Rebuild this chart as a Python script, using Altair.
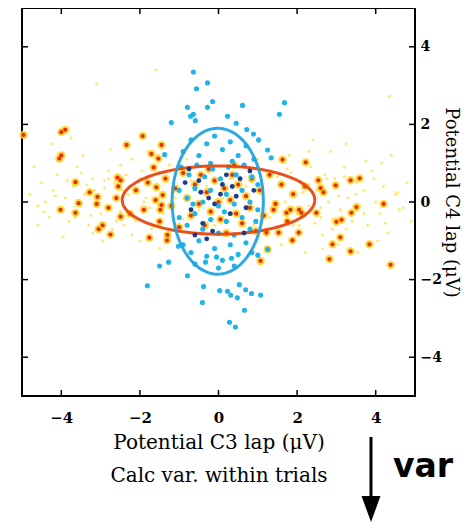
import altair as alt
import pandas as pd

# ---------------- data ----------------
tick_values = [-4, -2, 0, 2, 4]

# orange/red trial points (with yellow halo)
orange_x = [-4.96, -4.0, -3.9, -4.05, -4.0, -3.64, -3.28, -2.34, -1.93, -1.45, -1.71, -1.53,
            -2.57, -2.49, -3.08, -1.65, -1.58, -1.42,
            1.63, 2.22, 3.36, 3.59, 2.6, 2.98, 4.2, 2.54, 2.67,
            -4.02, -3.64, -3.56, -3.05, -2.95, -2.75, -2.49, -1.76, -1.31, -1.48, -1.45,
            3.51, 3.38, 3.0, 3.13, 3.1, 2.9, 3.36, 3.84, 2.82, 4.38, 1.88, 2.04, 1.53, 1.25,
            1.07, 1.73, 1.83, 1.4, 2.11, 2.49, 1.22,
            -2.1, -1.9, -1.8, -1.6, -1.5, -1.35, -1.2, -1.1, -1.0, -0.9, -0.8, -0.7, -0.6,
            -0.5, -0.45, -0.35, -0.3, -0.2, -0.1, 0.0, 0.05, 0.15, 0.2, 0.3, 0.35, 0.45, 0.5,
            0.6, 0.7, 0.8, 0.85, 0.95, 1.05, 1.15, 1.3, 1.45, 1.6, 1.75, 1.9, 2.05, 2.2,
            -2.25, -0.25, 0.4, -1.3, -2.6, -2.8, -2.55, -3.1]
orange_y = [1.73, 1.8, 1.86, 1.12, 1.2, 0.51, 0.25, 1.47, 1.7, 1.47, 1.24, 1.12,
            0.63, 0.56, 0.13, 0.89, 0.38, 0.18,
            1.09, 1.02, 0.56, 0.61, 0.36, 0.43, -0.05, 0.56, 0.25,
            -0.2, -0.28, -0.03, -0.7, -0.6, -0.84, -0.38, -0.92, -0.99, -0.2, -0.08,
            -0.13, -0.28, -0.51, -0.46, -0.91, -1.09, -1.27, -1.09, -1.47, -1.62, -0.99, -0.79, -0.79, -1.22,
            -1.52, -0.28, -0.2, -0.2, -0.28, -0.28, -0.79,
            0.3, -0.2, 0.5, 0.05, -0.5, 0.6, -0.1, 0.35, -0.65, 0.75, 0.1, -0.35, 0.45,
            -0.05, 0.7, -0.6, 0.25, -0.25, 0.55, 0.0, -0.45, 0.35, -0.8, 0.05, 0.7, -0.3, 0.45,
            -0.55, 0.15, -0.15, 0.6, -0.75, 0.3, -0.35, 0.7, -0.05, 0.45, -0.5, 0.2, -0.2, 0.4,
            -0.3, 0.85, 0.95, -0.85, 0.1, -0.15, 0.4, -0.05]

# cyan trial points
cyan_x = [-0.64, -0.56, -0.28, -0.15, -0.28, -0.79, -0.64, -0.71, -0.59, -1.2, 0.23, 0.61,
          1.68, 1.55, 0.45, 0.72, 0.89, 1.02, 1.25, 1.34, -1.37,
          -1.5, -1.27, -0.79, -1.81, -0.38, 0.03, 0.23, 0.31, 0.48, 0.53, 0.69, 0.84, 1.07,
          -0.41, 0.66, 0.28, 0.43, -0.33, -0.05, 0.33, 1.0, 1.25, -1.02,
          -0.9, -0.7, -0.5, -0.3, -0.1, 0.1, 0.3, 0.5, 0.7, 0.9,
          -0.95, -0.75, -0.55, -0.35, -0.15, 0.05, 0.25, 0.45, 0.65, 0.85, 1.0,
          -1.0, -0.8, -0.6, -0.4, -0.2, 0.0, 0.2, 0.4, 0.6, 0.8, 1.0,
          -1.0, -0.8, -0.6, -0.4, -0.2, 0.0, 0.2, 0.4, 0.6, 0.8, 0.95,
          -0.9, -0.7, -0.5, -0.3, -0.1, 0.1, 0.3, 0.5, 0.7, 0.85,
          -0.6, 0.0, 0.4, -0.2, 0.35, -0.65, 0.15]
cyan_y = [3.35, 2.92, 3.07, 2.59, 2.44, 2.44, 2.26, 2.21, 2.1, 2.05, 2.21, 2.49,
          2.56, 2.26, 2.03, 1.87, 1.75, 1.6, 1.34, 1.14, 1.22,
          -1.65, -1.55, -1.9, -2.16, -2.18, -2.28, -2.3, -2.4, -2.47, -2.13, -2.26, -2.36, -2.4,
          -2.59, -2.79, -3.1, -3.22, -1.55, -1.42, -1.45, -1.37, -1.22, -1.14,
          1.3, 1.6, 1.2, 1.5, 1.7, 1.35, 1.55, 1.2, 1.45, 1.1,
          0.9, 0.7, 0.95, 0.65, 0.85, 0.6, 0.9, 0.7, 0.95, 0.65, 0.45,
          0.3, 0.1, 0.35, 0.0, 0.3, -0.1, 0.2, -0.05, 0.3, 0.0, -0.2,
          -0.4, -0.6, -0.3, -0.7, -0.45, -0.8, -0.5, -0.85, -0.4, -0.7, -0.5,
          -1.1, -1.3, -1.0, -1.4, -1.2, -1.5, -1.1, -1.35, -1.05, -1.3,
          -1.6, -1.7, -1.65, 1.0, 1.05, -0.05, -0.25]

# dark blue / black points in the overlap
dark_x = [-0.5, -0.25, 0.1, 0.3, 0.55, 0.7, -0.7, -0.4, -0.1, 0.2, 0.45, -0.85, 0.9,
          -0.15, 0.05, -0.6, -0.3, 0.65, 0.35, -0.45, 0.8, -0.75]
dark_y = [0.55, 0.1, 0.45, -0.3, 0.6, -0.15, -0.2, -0.55, -0.05, 0.7, 0.15, 0.5, 0.3,
          -0.75, 0.2, -0.85, -0.95, -0.8, 0.4, 0.25, 0.8, 0.85]

# faint yellow points
yellow_x = [-4.8, -4.6, -4.5, -4.4, -4.3, -4.2, -4.1, -4.0, -3.9, -3.8, -3.7, -3.6, -3.5, -3.4,
            -3.3, -3.2, -3.1, -3.0, -2.9, -2.8, -2.7, -2.6, -2.5, -3.45, -2.75, -4.7, -3.95,
            -2.95, -3.6, -3.15, -2.85, -2.65, -4.25, -3.75, -3.1, -1.6,
            -2.3, -2.1, -2.0, -1.9, -1.7, -1.6, -1.4, -1.25, -1.1, -0.9, -0.7, -0.5, -0.3,
            -0.1, 0.1, 0.3, 0.5, 0.7, 0.9, 1.1, 1.3, 1.5, 1.7, 1.9, 2.1, 2.3, -2.2, -1.8,
            1.8, 2.3, -1.5, 1.6, 2.2, -2.0, 1.0, -0.8,
            2.5, 2.6, 2.7, 2.8, 2.9, 3.0, 3.1, 3.2, 3.3, 3.4, 3.5, 3.6, 3.7, 3.8, 3.9, 4.0,
            4.1, 4.2, 4.3, 4.5, 4.6, 4.8, 4.9, 2.85, 3.25, 3.75, 4.4, 2.65, 3.05, 3.55, 4.05,
            2.4, 4.35,
            -3.35, -3.05, -2.75, -2.45, -2.15, -1.85, -3.25, -2.9, -2.6, -2.35, -2.05, -1.75,
            -3.5, -3.2, -2.8, -2.5, -2.2, -1.95, -4.45, -4.15, -3.85, -4.6, -3.65, -2.4,
            1.85, 2.15, 2.45, 2.75, 3.05, 3.35, 2.0, 2.3, 2.6, 2.9, 3.2, 3.5,
            1.75, 2.05, 2.35, 2.65, 2.95, 3.25, 3.95, 4.25, 4.55, 3.7, 4.15, 4.7]
yellow_y = [0.2, -0.1, 0.5, 0.0, -0.4, 0.3, 0.7, -0.2, 0.1, -0.5, 0.4, 0.9, -0.1, 0.2,
            -0.6, 0.6, 0.0, -0.3, 0.35, 0.8, -0.7, 0.15, -0.25, 1.2, 1.35, 0.9, -0.9,
            -1.0, 0.05, 0.3, -0.1, 0.5, 1.5, 1.65, 3.05, 3.4,
            0.2, -0.5, 0.6, 0.0, -0.7, 0.4, -0.3, 0.95, 0.1, -0.45, 0.55, -0.2, 0.4,
            -0.6, 0.1, 0.6, -0.35, 0.4, -0.6, 0.2, -0.4, 0.65, 0.0, -0.6, 0.5, -0.1, 1.1, 1.3,
            1.2, 1.3, -1.2, -1.1, -1.3, -1.0, 1.1, 1.1,
            0.3, -0.4, 0.7, 0.0, -0.7, 0.4, -0.2, 0.9, 0.1, -0.5, 0.5, -0.1, 0.3, -0.6, 0.8, 0.0,
            -0.3, 0.4, -0.8, 0.2, -0.2, 0.5, -0.5, 1.3, 1.5, 1.05, 1.2, -1.2, -1.1, -1.3, -1.0,
            1.6, 2.72,
            0.45, 0.15, -0.15, 0.3, -0.45, 0.1, -0.35, 0.55, -0.5, 0.7, 0.25, -0.15,
            0.75, -0.8, 0.6, 0.95, -0.85, 0.8, -0.25, 0.15, 0.55, -0.6, -0.4, -0.6,
            0.75, 0.25, -0.55, 0.6, 0.15, -0.3, -0.3, 0.45, -0.15, -0.45, 0.65, 0.2,
            0.85, -0.6, 0.9, -0.85, 0.6, -0.7, 0.6, -0.55, 0.25, -0.3, 1.0, -0.15]

# covariance ellipses: centre and radii
ellipse_cx = [0.0, -0.02]
ellipse_cy = [0.05, 0.02]
ellipse_rx = [2.45, 1.16]
ellipse_ry = [0.88, 1.88]

x_title = "Potential C3 lap (μV)"
x_subtitle = "Calc var. within trials"
y_title = "Potential C4 lap (μV)"
side_label = "var"

# ---------------- chart ----------------
W, H = 393, 388
TOTAL_W, TOTAL_H = 455, 515
SERIF = "DejaVu Serif"

xs = alt.Scale(domain=[-5, 5], nice=False, zero=False)
ys = alt.Scale(domain=[-5, 5], nice=False, zero=False)

orange_df = pd.DataFrame({"x": orange_x, "y": orange_y})
cyan_df = pd.DataFrame({"x": cyan_x, "y": cyan_y})
dark_df = pd.DataFrame({"x": dark_x, "y": dark_y})
yellow_df = pd.DataFrame({"x": yellow_x, "y": yellow_y})
ticks_df = pd.DataFrame({"v": tick_values})

X = alt.X("x:Q", scale=xs, axis=alt.Axis(
    values=tick_values, ticks=False, domain=False, grid=False, labelPadding=14,
    labelFont=SERIF, labelFontSize=15, labelFontWeight="bold", labelColor="black",
    title=[x_title, x_subtitle], titleFont=SERIF, titleFontSize=20, titleFontWeight="normal",
    titleColor="black", titlePadding=7, titleLineHeight=33))
Y = alt.Y("y:Q", scale=ys, axis=alt.Axis(
    orient="right", values=tick_values, ticks=False, domain=False, grid=False, labelPadding=5,
    labelFont=SERIF, labelFontSize=14, labelFontWeight="bold", labelColor="black",
    title=y_title, titleFont=SERIF, titleFontSize=18, titleFontWeight="normal",
    titleColor="black", titlePadding=0))

yellow = alt.Chart(yellow_df).mark_circle(size=8, color="#ffe24a", opacity=0.85).encode(x=X, y=Y)
halo = alt.Chart(orange_df).mark_circle(size=70, color="#ffd21c", opacity=0.85).encode(
    x=alt.X("x:Q", scale=xs), y=alt.Y("y:Q", scale=ys))
core = alt.Chart(orange_df).mark_circle(size=18, color="#e2301a", opacity=1).encode(
    x=alt.X("x:Q", scale=xs), y=alt.Y("y:Q", scale=ys))
cyan = alt.Chart(cyan_df).mark_circle(size=26, color="#1fb4ea", opacity=1).encode(
    x=alt.X("x:Q", scale=xs), y=alt.Y("y:Q", scale=ys))
dark = alt.Chart(dark_df).mark_circle(size=24, color="#1b3c8c", opacity=1).encode(
    x=alt.X("x:Q", scale=xs), y=alt.Y("y:Q", scale=ys))


def ellipse(i, color):
    return alt.Chart(alt.sequence(0, 6.35, 0.04, as_="t")).transform_calculate(
        ex=f"{ellipse_cx[i]} + {ellipse_rx[i]} * cos(datum.t)",
        ey=f"{ellipse_cy[i]} + {ellipse_ry[i]} * sin(datum.t)",
    ).mark_line(color=color, strokeWidth=3, opacity=0.95).encode(
        x=alt.X("ex:Q", scale=xs), y=alt.Y("ey:Q", scale=ys), order="t:Q")


e_orange = ellipse(0, "#e8480f")
e_blue = ellipse(1, "#22a4de")

TL = 6
tick_top = alt.Chart(ticks_df).mark_rule(color="black", strokeWidth=1.5).encode(
    x=alt.X("v:Q", scale=xs), y=alt.value(0), y2=alt.value(TL))
tick_bot = alt.Chart(ticks_df).mark_rule(color="black", strokeWidth=1.5).encode(
    x=alt.X("v:Q", scale=xs), y=alt.value(H), y2=alt.value(H - TL))
tick_left = alt.Chart(ticks_df).mark_rule(color="black", strokeWidth=1.5).encode(
    y=alt.Y("v:Q", scale=ys), x=alt.value(0), x2=alt.value(TL))
tick_right = alt.Chart(ticks_df).mark_rule(color="black", strokeWidth=1.5).encode(
    y=alt.Y("v:Q", scale=ys), x=alt.value(W), x2=alt.value(W - TL))

arrow_line = alt.Chart(ticks_df.head(1)).mark_rule(color="black", strokeWidth=3).encode(
    x=alt.value(349), y=alt.value(429), y2=alt.value(491))
arrow_head = alt.Chart(ticks_df.head(1)).mark_point(
    shape="M-0.73,-1 L0.73,-1 L0,1 Z", filled=True, color="black", opacity=1, size=676,
    strokeWidth=0).encode(x=alt.value(349), y=alt.value(501))
var_text = alt.Chart(pd.DataFrame({"t": [side_label]})).mark_text(
    font="DejaVu Sans", fontSize=33, fontWeight="bold", color="black", align="center",
    baseline="alphabetic").encode(text="t:N", x=alt.value(401), y=alt.value(469))

chart = alt.layer(
    yellow, halo, core, cyan, e_orange, e_blue, dark,
    tick_top, tick_bot, tick_left, tick_right, arrow_line, arrow_head, var_text
).properties(
    width=W, height=H,
    autosize=alt.AutoSizeParams(type="none"),
    padding={"left": 14, "top": 0, "right": TOTAL_W - 14 - W, "bottom": TOTAL_H - H},
).configure(background="white").configure_view(stroke="black", strokeWidth=2)

chart.save("out.html", embed_options={"renderer": "svg", "actions": False})
